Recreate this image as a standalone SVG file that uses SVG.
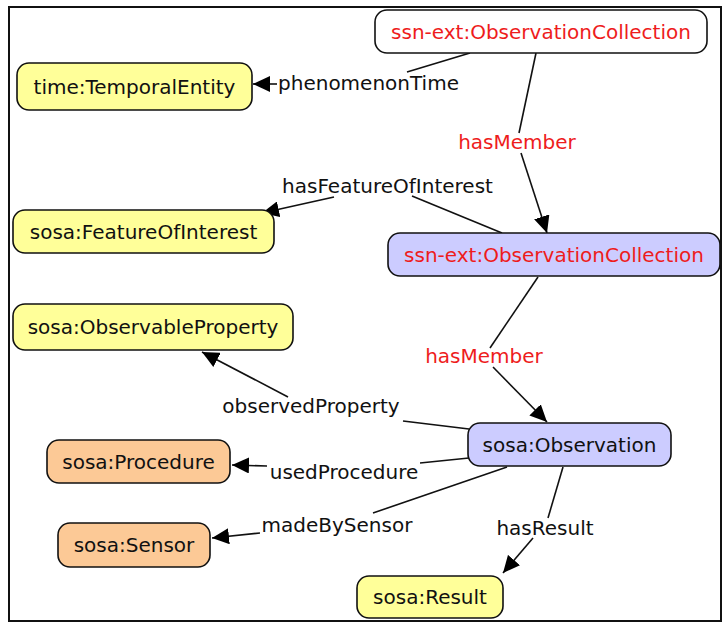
<svg xmlns="http://www.w3.org/2000/svg" width="725" height="630" viewBox="0 0 725 630">
<defs>
<marker id="arr" markerUnits="userSpaceOnUse" markerWidth="18" markerHeight="16" refX="17" refY="8" orient="auto">
<path d="M0,0 L17,8 L0,16 z" fill="#000"/>
</marker>
<style>
.node rect{stroke:#111;stroke-width:1.6}
.y{fill:#ffff99}
.l{fill:#ccccff}
.o{fill:#fcc996}
.w{fill:#fff}
text{font-family:"DejaVu Sans",Verdana,sans-serif;font-size:20px;fill:#111;text-anchor:middle}
.red{fill:#ee1c1c}
.edges path{fill:none;stroke:#111;stroke-width:1.6}
</style>
</defs>
<rect x="0" y="0" width="725" height="630" fill="#fff"/>
<rect x="9" y="7" width="712" height="614" fill="none" stroke="#111" stroke-width="2"/>
<g class="edges" id="connectors">
<path d="M470,53 L407,72"/>
<path d="M277,84 L253,84" marker-end="url(#arr)"/>
<text x="368.5" y="90">phenomenonTime</text>
<path d="M536,53 L519,133"/>
<path d="M521,153 L547,233" marker-end="url(#arr)"/>
<text x="517" y="149" class="red">hasMember</text>
<path d="M502,233 L412,196"/>
<path d="M334,197 L262,213" marker-end="url(#arr)"/>
<text x="387.5" y="193">hasFeatureOfInterest</text>
<path d="M538,277 L490,348"/>
<path d="M493,367 L547,422" marker-end="url(#arr)"/>
<text x="484" y="363" class="red">hasMember</text>
<path d="M469,429 L403,421"/>
<path d="M288,397 L202,352" marker-end="url(#arr)"/>
<text x="311" y="413">observedProperty</text>
<path d="M469,458 L420,463"/>
<path d="M267,466 L232,465" marker-end="url(#arr)"/>
<text x="344" y="479">usedProcedure</text>
<path d="M507,467 L373,513"/>
<path d="M260,533 L212,538" marker-end="url(#arr)"/>
<text x="337" y="532">madeBySensor</text>
<path d="M563,467 L548,518"/>
<path d="M533,538 L503,573" marker-end="url(#arr)"/>
<text x="545" y="535">hasResult</text>
</g>
<g class="node" id="n-collection-top">
<rect class="w" x="375" y="10" width="332" height="43" rx="12"/>
<text x="541" y="38.5" class="red">ssn-ext:ObservationCollection</text>
</g>
<g class="node" id="n-temporal">
<rect class="y" x="17" y="63" width="235" height="47" rx="12"/>
<text x="134.5" y="93.5">time:TemporalEntity</text>
</g>
<g class="node" id="n-foi">
<rect class="y" x="13" y="210" width="261" height="43" rx="12"/>
<text x="143.5" y="238.5">sosa:FeatureOfInterest</text>
</g>
<g class="node" id="n-collection">
<rect class="l" x="388" y="233" width="332" height="43" rx="12"/>
<text x="554" y="261.5" class="red">ssn-ext:ObservationCollection</text>
</g>
<g class="node" id="n-obsprop">
<rect class="y" x="13" y="304" width="280" height="46" rx="12"/>
<text x="153" y="334">sosa:ObservableProperty</text>
</g>
<g class="node" id="n-observation">
<rect class="l" x="468" y="423" width="203" height="43" rx="12"/>
<text x="569.5" y="451.5">sosa:Observation</text>
</g>
<g class="node" id="n-procedure">
<rect class="o" x="47" y="440" width="183" height="43" rx="12"/>
<text x="138.5" y="468.5">sosa:Procedure</text>
</g>
<g class="node" id="n-sensor">
<rect class="o" x="58" y="523" width="152" height="44" rx="12"/>
<text x="134" y="552">sosa:Sensor</text>
</g>
<g class="node" id="n-result">
<rect class="y" x="357" y="576" width="146" height="42" rx="12"/>
<text x="430" y="604">sosa:Result</text>
</g>
</svg>
